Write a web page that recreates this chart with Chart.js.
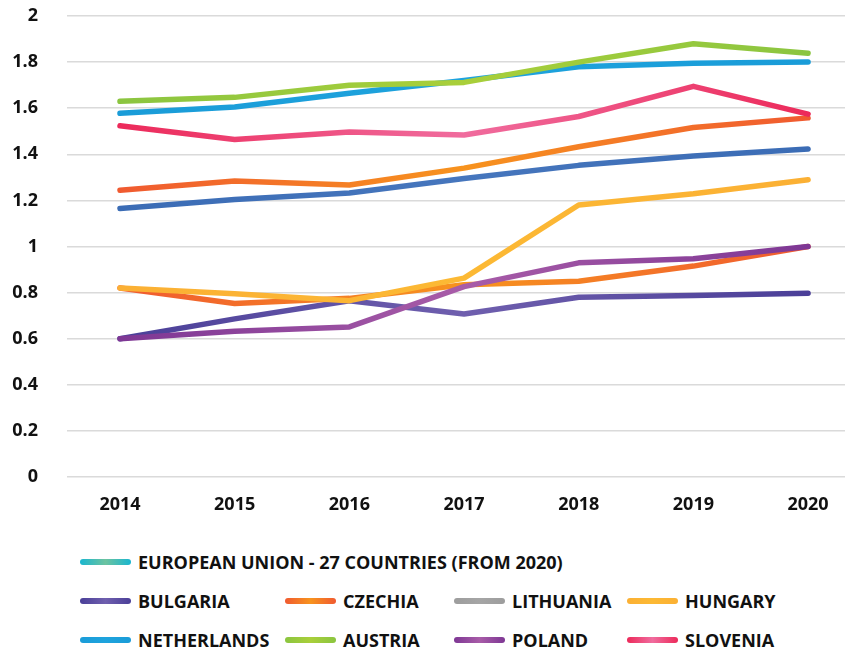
<!DOCTYPE html>
<html>
<head>
<meta charset="utf-8">
<script src="https://cdn.jsdelivr.net/npm/chart.js@4.4.1/dist/chart.umd.min.js"></script>
<style>
  html,body{margin:0;padding:0;background:#fff;}
  #wrap{position:relative;width:845px;height:652px;overflow:hidden;}
  #c{position:absolute;left:0;top:0;}
  .lg{position:absolute;display:flex;align-items:center;font-family:"Open Sans",sans-serif;font-weight:700;font-size:18px;color:#111;white-space:nowrap;transform:translateY(-50%);}
  .sw{width:51px;height:6px;border-radius:3px;margin-right:7px;}
</style>
</head>
<body>
<div id="wrap">
  <canvas id="c" width="845" height="530"></canvas>
  <div id="legend"></div>
</div>
<script>
// ---- data ----
const years = [2014, 2015, 2016, 2017, 2018, 2019, 2020];
const yTicks = [0, 0.2, 0.4, 0.6, 0.8, 1, 1.2, 1.4, 1.6, 1.8, 2];

const labels = ['EUROPEAN UNION - 27 COUNTRIES (FROM 2020)', 'BULGARIA', 'CZECHIA', 'LITHUANIA', 'HUNGARY', 'NETHERLANDS', 'AUSTRIA', 'POLAND', 'SLOVENIA'];

const eu27        = [1.165, 1.204, 1.232, 1.295, 1.352, 1.393, 1.423];
const bulgaria    = [0.600, 0.686, 0.765, 0.707, 0.780, 0.787, 0.797];
const czechia     = [1.244, 1.284, 1.267, 1.340, 1.433, 1.516, 1.558];
const lithuania   = [0.820, 0.753, 0.775, 0.834, 0.849, 0.915, 1.000];
const hungary     = [0.820, 0.795, 0.765, 0.863, 1.180, 1.229, 1.290];
const netherlands = [1.578, 1.605, 1.665, 1.720, 1.780, 1.795, 1.800];
const austria     = [1.630, 1.647, 1.700, 1.712, 1.800, 1.880, 1.838];
const poland      = [0.600, 0.632, 0.651, 0.826, 0.929, 0.947, 1.000];
const slovenia    = [1.524, 1.464, 1.497, 1.484, 1.564, 1.695, 1.574];

const seriesValues = [eu27, bulgaria, czechia, lithuania, hungary, netherlands, austria, poland, slovenia];

// ---- styles ----
const lineGradients = [
  ['#3b6cb5', '#4676bd', '#3b6cb5'],
  ['#4a3f98', '#6f5fae', '#4b3f98'],
  ['#f05a30', '#f7931e', '#f05a30'],
  ['#f05a30', '#f7931e', '#f05a30'],
  ['#fbb034', '#fcb934', '#fbb034'],
  ['#1a9cd8', '#1ea3dd', '#1a9cd8'],
  ['#8bc540', '#a9cf3a', '#8bc540'],
  ['#7e3794', '#a85ca8', '#7e3794'],
  ['#ec2a5a', '#f06c9e', '#ec2a5a']
];
const legendGradients = [
  ['#19b6cf', '#6cc3a0', '#19b6cf'],
  ['#4a3f98', '#6f5fae', '#4b3f98'],
  ['#f05a30', '#f7931e', '#f05a30'],
  ['#9d9d9d', '#a5a5a5', '#9d9d9d'],
  ['#fbb034', '#fcb934', '#fbb034'],
  ['#1a9cd8', '#1ea3dd', '#1a9cd8'],
  ['#8bc540', '#a9cf3a', '#8bc540'],
  ['#7e3794', '#a85ca8', '#7e3794'],
  ['#ec2a5a', '#f06c9e', '#ec2a5a']
];
const drawOrder = [6, 7, 5, 6, 1, 4, 3, 2, 4];
const legendSlots = [[80, 562], [80, 601], [285, 601], [454, 601], [627, 601], [80, 640], [285, 640], [454, 640], [627, 640]];

function gradFor(i) {
  return function (ctx) {
    const chart = ctx.chart;
    const x = chart.scales.x;
    if (!chart.chartArea || !x) return lineGradients[i][0];
    const x0 = x.getPixelForValue(years[0]);
    const x1 = x.getPixelForValue(years[years.length - 1]);
    const g = chart.ctx.createLinearGradient(x0, 0, x1, 0);
    const c = lineGradients[i];
    g.addColorStop(0, c[0]);
    g.addColorStop(0.5, c[1]);
    g.addColorStop(1, c[2]);
    return g;
  };
}

const datasets = labels.map((lab, i) => ({
  label: lab,
  data: years.map((y, j) => ({ x: y, y: seriesValues[i][j] })),
  borderColor: gradFor(i),
  backgroundColor: lineGradients[i][0],
  borderWidth: 5.5,
  borderCapStyle: 'round',
  borderJoinStyle: 'round',
  pointRadius: 0,
  tension: 0,
  fill: false,
  order: drawOrder[i]
}));

const tickFont = { family: '"Open Sans", sans-serif', weight: '700', size: 18 };

new Chart(document.getElementById('c'), {
  type: 'line',
  data: { datasets },
  options: {
    responsive: false,
    animation: false,
    devicePixelRatio: 1,
    layout: { padding: { top: 16, right: 0, bottom: 0, left: 0 } },
    plugins: { legend: { display: false }, tooltip: { enabled: false } },
    scales: {
      x: {
        type: 'linear',
        min: 2013.538,
        max: 2020.322,
        grid: { display: false, drawTicks: false },
        border: { display: false },
        afterBuildTicks: (axis) => { axis.ticks = years.map(v => ({ value: v })); },
        afterFit: (axis) => { axis.height = 53; axis.paddingLeft = 0; axis.paddingRight = 0; },
        ticks: {
          autoSkip: false, maxRotation: 0, padding: 17,
          color: '#111', font: tickFont,
          callback: (v) => String(v)
        }
      },
      y: {
        type: 'linear',
        min: 0, max: 2,
        grid: { color: '#dadada', lineWidth: 1.6, drawTicks: false },
        border: { display: false },
        afterBuildTicks: (axis) => { axis.ticks = yTicks.map(v => ({ value: v })); },
        afterFit: (axis) => { axis.width = 67; axis.paddingTop = 0; axis.paddingBottom = 0; },
        ticks: {
          padding: 29, color: '#111', font: tickFont,
          callback: (v) => String(Math.round(v * 10) / 10)
        }
      }
    }
  }
});

// HTML legend built from the same labels
const lg = document.getElementById('legend');
labels.forEach((lab, i) => {
  const d = document.createElement('div');
  d.className = 'lg';
  d.style.left = legendSlots[i][0] + 'px';
  d.style.top = legendSlots[i][1] + 'px';
  const s = document.createElement('span');
  s.className = 'sw';
  const c = legendGradients[i];
  s.style.background = 'linear-gradient(to right,' + c[0] + ',' + c[1] + ',' + c[2] + ')';
  const t = document.createElement('span');
  t.textContent = lab;
  d.appendChild(s); d.appendChild(t);
  lg.appendChild(d);
});
</script>
</body>
</html>
